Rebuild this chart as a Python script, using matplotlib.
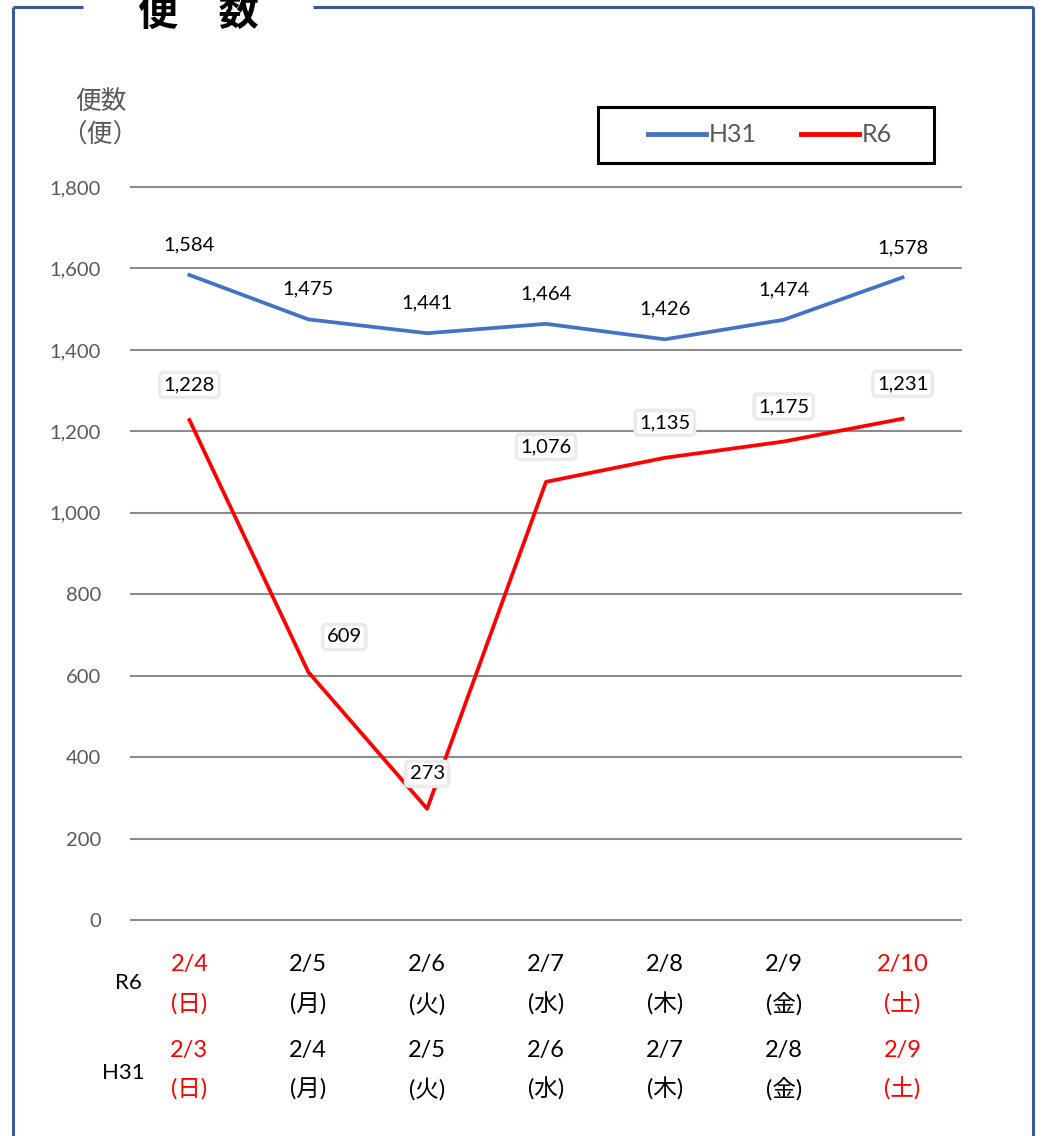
import matplotlib.pyplot as plt
from matplotlib.lines import Line2D
from matplotlib.patches import Rectangle
from matplotlib.ticker import FuncFormatter

# data
r6_dates = ["2/4", "2/5", "2/6", "2/7", "2/8", "2/9", "2/10"]
h31_dates = ["2/3", "2/4", "2/5", "2/6", "2/7", "2/8", "2/9"]
weekdays = ["日", "月", "火", "水", "木", "金", "土"]
h31 = [1584, 1475, 1441, 1464, 1426, 1474, 1578]
r6 = [1228, 609, 273, 1076, 1135, 1175, 1231]

BLUE = "#4472C4"
RED = "#FF0000"
GRAY = "#595959"
FONT = ["Lato", "Noto Sans CJK JP", "DejaVu Sans"]
plt.rcParams["font.family"] = FONT

W, H = 1044, 1136
fig = plt.figure(figsize=(W / 100, H / 100), dpi=100)

def fx(px):
    return px / W

def fy(py):
    return 1 - py / H

# frame around the chart with a gap for the title
frame_col = "#3B5998"
for xs, ys in [([13, 83], [7, 7]), ([313, 1033], [7, 7]),
               ([13, 13], [7, 1140]), ([1033, 1033], [7, 1140])]:
    fig.add_artist(Line2D([fx(x) for x in xs], [fy(y) for y in ys],
                          color=frame_col, lw=2.2, solid_capstyle="butt"))
fig.text(fx(198), fy(13), "便　数", fontsize=29, fontweight="bold",
         ha="center", va="center", family=["Noto Sans CJK JP"])

ax = fig.add_axes([fx(130), fy(922), fx(962) - fx(130), fy(185) - fy(922)])
x = list(range(len(h31)))
ax.set_xlim(-0.5, len(h31) - 0.5)
ax.set_ylim(-5, 1805)
ax.set_yticks(range(0, 1801, 200))
ax.yaxis.set_major_formatter(FuncFormatter(lambda v, p: f"{int(v):,}"))
ax.set_xticks([])
ax.tick_params(axis="y", length=0, pad=21, labelsize=14.5, labelcolor=GRAY)
ax.grid(axis="y", color="#8C8C8C", lw=1.5)
ax.set_axisbelow(True)
for s in ax.spines.values():
    s.set_visible(False)

ax.plot(x, h31, color=BLUE, lw=2.7, label="H31")
ax.plot(x, r6, color=RED, lw=2.7, label="R6")

for i, v in enumerate(h31):
    ax.annotate(f"{v:,}", (i, v), xytext=(0, 30), textcoords="offset pixels",
                ha="center", va="center", fontsize=14.5)
r6_shift = {1: 36}
for i, v in enumerate(r6):
    ax.annotate(f"{v:,}", (i, v), xytext=(r6_shift.get(i, 0), 35),
                textcoords="offset pixels", ha="center", va="center", fontsize=14.5,
                bbox=dict(boxstyle="round,pad=0.2", fc="white", ec="#EBEBEB", lw=2.5))

# category labels under the axis
for i in x:
    col = RED if weekdays[i] in ("日", "土") else "black"
    for txt, off in [(r6_dates[i], 43), (f"({weekdays[i]})", 82),
                     (h31_dates[i], 128), (f"({weekdays[i]})", 167)]:
        ax.annotate(txt, (i, 0), xycoords=("data", "axes fraction"),
                    xytext=(0, -off), textcoords="offset pixels",
                    ha="center", va="center", fontsize=17, color=col)
fig.text(fx(128), fy(983), "R6", fontsize=16, ha="center", va="center")
fig.text(fx(123), fy(1073), "H31", fontsize=16, ha="center", va="center")

fig.text(fx(101), fy(101), "便数", fontsize=18.5, ha="center", va="center", color=GRAY)
fig.text(fx(100), fy(135), "（便）", fontsize=18.5, ha="center", va="center", color=GRAY)

leg = ax.legend(loc="center", bbox_to_anchor=(fx(770), fy(135)),
                bbox_transform=fig.transFigure, ncol=2, fontsize=18,
                frameon=False, handlelength=2.3,
                columnspacing=1.8, handletextpad=0.1, borderaxespad=0)
for t in leg.get_texts():
    t.set_color(GRAY)
for h in leg.get_lines():
    h.set_linewidth(3.5)
fig.add_artist(Rectangle((fx(598), fy(163)), fx(934) - fx(598), fy(107) - fy(163),
                         transform=fig.transFigure, fill=False, ec="black", lw=2.2))

fig.savefig("out.png", dpi=100)
